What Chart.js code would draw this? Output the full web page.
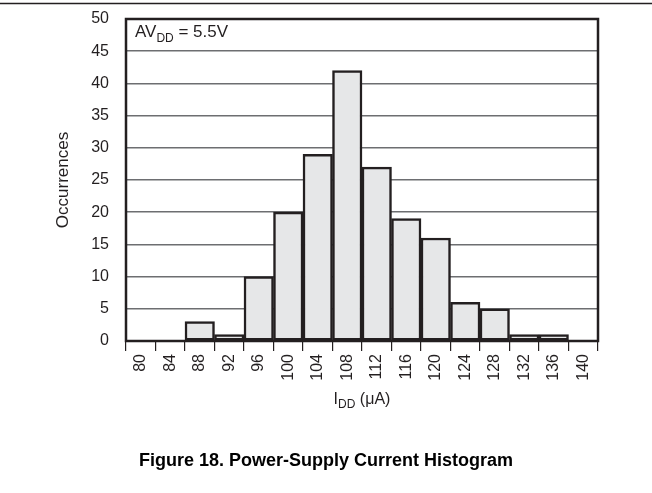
<!DOCTYPE html>
<html><head><meta charset="utf-8">
<script src="https://cdn.jsdelivr.net/npm/chart.js@4/dist/chart.umd.min.js"></script>
<style>html,body{margin:0;padding:0;background:#fff;}#wrap{width:652px;height:493px;position:relative}</style>
</head><body><div id="wrap"><canvas id="c" width="652" height="493"></canvas></div>
<script>
// ---- data ----
const binLabels = ['80','84','88','92','96','100','104','108','112','116','120','124','128','132','136','140'];
const occurrences = [0,0,3,1,10,20,29,42,27,19,16,6,5,1,1,0];
const yMin = 0, yMax = 50, yStep = 5;
const yTitle = 'Occurrences';
const xTitleParts = ['I', 'DD', ' (\u03bcA)'];
const noteParts = ['AV', 'DD', ' = 5.5V'];
const caption = 'Figure 18. Power-Supply Current Histogram';

// ---- style ----
const FONT = '"Liberation Sans", Arial, sans-serif';
const INK = '#231f20';

function drawSub(ctx, x, y, parts, size, align) {
  const subSize = Math.round(size * 0.72);
  ctx.font = size + 'px ' + FONT;
  const w0 = ctx.measureText(parts[0]).width;
  const w2 = ctx.measureText(parts[2]).width;
  ctx.font = subSize + 'px ' + FONT;
  const w1 = ctx.measureText(parts[1]).width;
  const total = w0 + w1 + w2;
  let sx = align === 'center' ? x - total / 2 : x;
  ctx.textAlign = 'left';
  ctx.textBaseline = 'alphabetic';
  ctx.fillStyle = INK;
  ctx.font = size + 'px ' + FONT;
  ctx.fillText(parts[0], sx, y);
  ctx.font = subSize + 'px ' + FONT;
  ctx.fillText(parts[1], sx + w0, y + size * 0.28);
  ctx.font = size + 'px ' + FONT;
  ctx.fillText(parts[2], sx + w0 + w1, y);
}

const decor = {
  id: 'decor',
  afterDraw(chart) {
    const ctx = chart.ctx, a = chart.chartArea;
    ctx.save();
    // page rule at top
    ctx.strokeStyle = INK; ctx.lineWidth = 1.5;
    ctx.beginPath(); ctx.moveTo(0, 3.5); ctx.lineTo(652, 3.5); ctx.stroke();
    // plot frame
    ctx.lineWidth = 2.5; ctx.strokeStyle = INK;
    ctx.strokeRect(a.left, a.top, a.right - a.left, a.bottom - a.top);
    // annotation
    drawSub(ctx, a.left + 9, a.top + 18, noteParts, 17, 'left');
    // x title
    drawSub(ctx, (a.left + a.right) / 2, 404, xTitleParts, 16, 'center');
    // y title
    ctx.save();
    ctx.translate(63, (a.top + a.bottom) / 2);
    ctx.rotate(-Math.PI / 2);
    ctx.font = '17px ' + FONT; ctx.fillStyle = INK;
    ctx.textAlign = 'center'; ctx.textBaseline = 'middle';
    ctx.fillText(yTitle, 0, 0);
    ctx.restore();
    // caption
    ctx.font = 'bold 18px ' + FONT; ctx.fillStyle = '#000';
    ctx.textAlign = 'center'; ctx.textBaseline = 'alphabetic';
    ctx.fillText(caption, 326, 466);
    ctx.restore();
  }
};

new Chart(document.getElementById('c'), {
  type: 'bar',
  data: {
    labels: binLabels,
    datasets: [{
      data: occurrences,
      backgroundColor: '#e6e7e8',
      borderColor: INK,
      borderWidth: 2.5,
      borderSkipped: false,
      barPercentage: 1,
      categoryPercentage: 1
    }]
  },
  options: {
    responsive: false,
    devicePixelRatio: 1,
    animation: false,
    layout: { padding: { top: 19, right: 54, left: 0, bottom: 0 } },
    plugins: { legend: { display: false }, tooltip: { enabled: false } },
    scales: {
      x: {
        offset: true,
        grid: { offset: true, drawOnChartArea: false, drawTicks: true, tickLength: 10, color: INK, lineWidth: 1.2 },
        border: { display: false },
        ticks: { autoSkip: false, maxRotation: 90, minRotation: 90, padding: 3, color: INK, font: { family: FONT, size: 16 } },
        afterFit(s) { s.height = 152; }
      },
      y: {
        min: yMin, max: yMax,
        grid: { color: '#6d6e71', lineWidth: 1.5, drawTicks: false },
        border: { display: false },
        ticks: { stepSize: yStep, padding: 17, color: INK, font: { family: FONT, size: 16 } },
        afterFit(s) { s.width = 126; s.paddingTop = 0; s.paddingBottom = 0; }
      }
    }
  },
  plugins: [decor]
});
</script>
</body></html>
